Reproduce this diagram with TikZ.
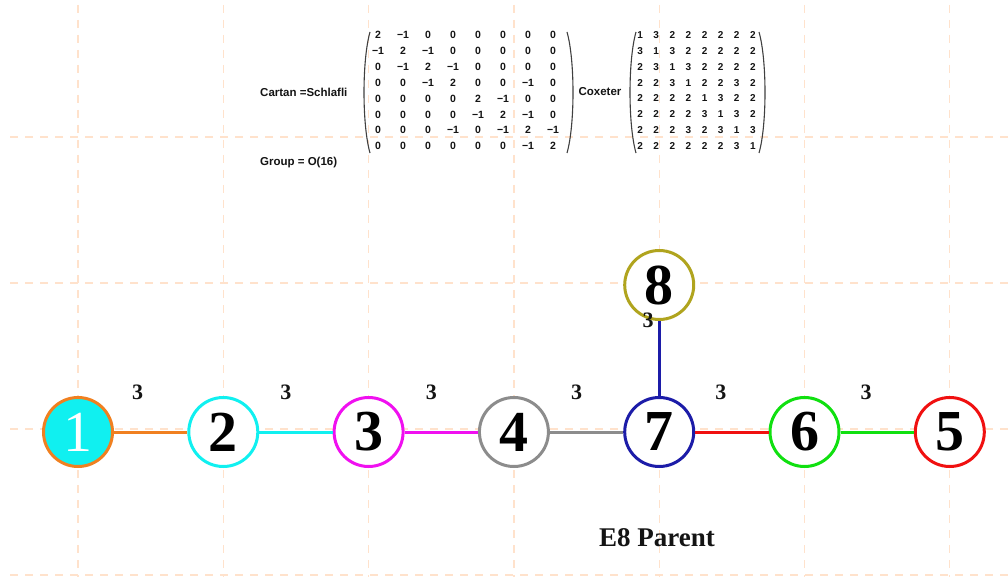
\documentclass[tikz,border=0pt]{standalone}
\usepackage{fontspec}
\setmainfont{Liberation Serif}
\setsansfont{Liberation Sans}
\usetikzlibrary{matrix}
\definecolor{gridc}{HTML}{FFE2CC}
\definecolor{c1}{HTML}{F08020}
\definecolor{c2}{HTML}{10F0F0}
\definecolor{c3}{HTML}{F010F0}
\definecolor{c4}{HTML}{8C8C8C}
\definecolor{c7}{HTML}{1C1CA8}
\definecolor{c6}{HTML}{10E010}
\definecolor{c5}{HTML}{F01010}
\definecolor{c8}{HTML}{B0A41E}
\definecolor{txt}{HTML}{141414}
\begin{document}
\begin{tikzpicture}[x=1pt,y=-1pt,
  gridline/.style={draw=gridc, line width=1.3pt, dash pattern=on 8pt off 7pt},
  dyn/.style={circle, minimum size=69pt, inner sep=0pt, line width=3pt, fill=white,
    font=\fontsize{58}{58}\selectfont\bfseries},
  bond/.style={line width=3pt},
  elabel/.style={font=\fontsize{22}{22}\selectfont\bfseries, inner sep=0pt, text=txt},
  smalltxt/.style={font=\sffamily\bfseries\fontsize{11.5}{12}\selectfont, inner sep=0pt, text=txt},
  cartancell/.style={minimum width=25pt, minimum height=15.86pt, inner sep=0pt,
    font=\sffamily\bfseries\fontsize{10.5}{11}\selectfont, text=txt},
  coxcell/.style={minimum width=16.1pt, minimum height=15.86pt, inner sep=0pt,
    font=\sffamily\bfseries\fontsize{10}{11}\selectfont, text=txt},
  paren/.style={draw=black!75, line width=1.1pt}
]
\useasboundingbox (0,0) rectangle (1008,577);
\fill[white] (0,0) rectangle (1008,577);
% background grid
\foreach \gx in {78,223.3,368.6,513.9,659.2,804.5,949.8}
  \draw[gridline] (\gx,5) -- (\gx,577);
\foreach \gy in {137,283,429,575}
  \draw[gridline] (10,\gy) -- (1008,\gy);

% texts of the matrices
\node[smalltxt, anchor=west] (cartanlbl) at (260,92) {Cartan =Schlafli};
\node[smalltxt, anchor=west] (grouplbl) at (260,163) {Group = O(16)};
\node[smalltxt] (coxlbl) at (600,92) {Coxeter};

\matrix (cartan) [matrix of nodes, inner sep=0pt, row sep=0pt, column sep=0pt,
  nodes={cartancell}] at (465.5,90.5) {
2 & −1 & 0 & 0 & 0 & 0 & 0 & 0\\
−1 & 2 & −1 & 0 & 0 & 0 & 0 & 0\\
0 & −1 & 2 & −1 & 0 & 0 & 0 & 0\\
0 & 0 & −1 & 2 & 0 & 0 & −1 & 0\\
0 & 0 & 0 & 0 & 2 & −1 & 0 & 0\\
0 & 0 & 0 & 0 & −1 & 2 & −1 & 0\\
0 & 0 & 0 & −1 & 0 & −1 & 2 & −1\\
0 & 0 & 0 & 0 & 0 & 0 & −1 & 2\\
};
\matrix (coxeter) [matrix of nodes, inner sep=0pt, row sep=0pt, column sep=0pt,
  nodes={coxcell}] at (696.5,90.5) {
1 & 3 & 2 & 2 & 2 & 2 & 2 & 2\\
3 & 1 & 3 & 2 & 2 & 2 & 2 & 2\\
2 & 3 & 1 & 3 & 2 & 2 & 2 & 2\\
2 & 2 & 3 & 1 & 2 & 2 & 3 & 2\\
2 & 2 & 2 & 2 & 1 & 3 & 2 & 2\\
2 & 2 & 2 & 2 & 3 & 1 & 3 & 2\\
2 & 2 & 2 & 3 & 2 & 3 & 1 & 3\\
2 & 2 & 2 & 2 & 2 & 2 & 3 & 1\\
};
% parentheses
\draw[paren] (370,32) .. controls (362,60) and (362,125) .. (370,153);
\draw[paren] (567,32) .. controls (575,60) and (575,125) .. (567,153);
\draw[paren] (636,32) .. controls (628,60) and (628,125) .. (636,153);
\draw[paren] (759,32) .. controls (767,60) and (767,125) .. (759,153);

% Dynkin nodes
\node[dyn, draw=c1, fill=c2, text=white, font=\fontsize{58}{58}\selectfont] (n1) at (78,432) {1};
\node[dyn, draw=c2] (n2) at (223.3,432) {2};
\node[dyn, draw=c3] (n3) at (368.6,432) {3};
\node[dyn, draw=c4] (n4) at (513.9,432) {4};
\node[dyn, draw=c7] (n7) at (659.2,432) {7};
\node[dyn, draw=c6] (n6) at (804.5,432) {6};
\node[dyn, draw=c5] (n5) at (949.8,432) {5};
\node[dyn, draw=c8] (n8) at (659.2,285) {8};

% bonds
\draw[bond, c1] (n1) -- node[elabel, xshift=-13pt, yshift=40pt] {3} (n2);
\draw[bond, c2] (n2) -- node[elabel, xshift=-10pt, yshift=40pt] {3} (n3);
\draw[bond, c3] (n3) -- node[elabel, xshift=-10pt, yshift=40pt] {3} (n4);
\draw[bond, c4] (n4) -- node[elabel, xshift=-10pt, yshift=40pt] {3} (n7);
\draw[bond, c5] (n7) -- node[elabel, xshift=-11pt, yshift=40pt] {3} (n6);
\draw[bond, c6] (n6) -- node[elabel, xshift=-11pt, yshift=40pt] {3} (n5);
\draw[bond, c7] (n8) -- node[elabel, pos=0, xshift=-11pt, yshift=1pt] {3} (n7);

% title
\node[font=\fontsize{27}{27}\selectfont\bfseries, text=txt, inner sep=0pt] (title) at (657,538) {E8 Parent};
\end{tikzpicture}
\end{document}
